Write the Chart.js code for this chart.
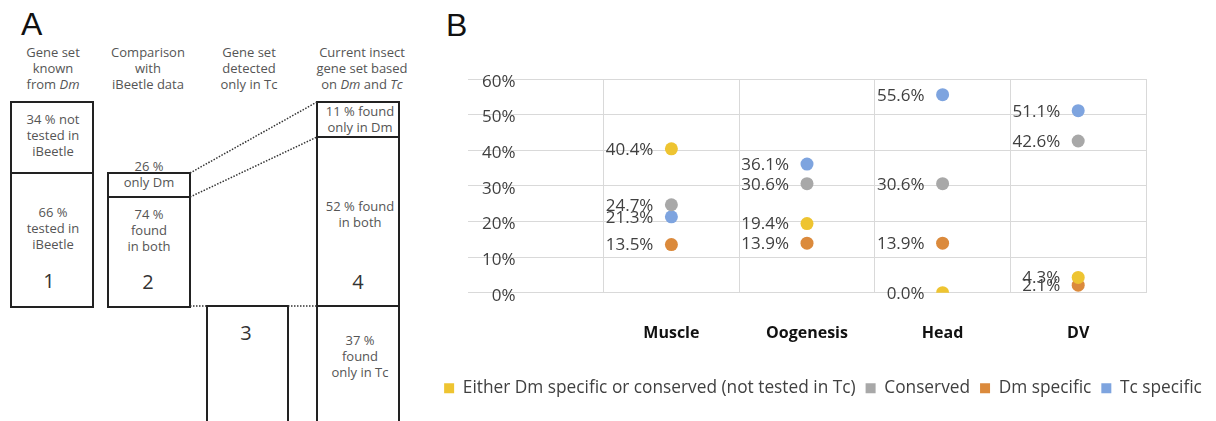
<!DOCTYPE html>
<html>
<head>
<meta charset="utf-8">
<script src="https://cdn.jsdelivr.net/npm/chart.js"></script>
<style>
  body { margin: 0; background: #fff; }
  #page { position: relative; width: 1216px; height: 421px; overflow: hidden; font-family: "Open Sans", sans-serif; }
  .letter { position: absolute; font-family: "Liberation Sans", sans-serif; font-size: 32px; line-height: 32px; color: #111; }
  .txt { position: absolute; width: 120px; text-align: center; font-size: 13px; line-height: 16px; color: #555; }
  .num { position: absolute; width: 60px; text-align: center; font-size: 20px; line-height: 20px; color: #333; }
  .box { position: absolute; box-sizing: border-box; border: 2px solid #222; }
  .open { border-bottom: none; }
  .div { position: absolute; height: 2px; background: #222; }
  #chartWrap { position: absolute; left: 430px; top: 0; width: 786px; height: 421px; }
</style>
</head>
<body>
<div id="page">
  <!-- panel A: schematic -->
  <div class="letter" style="left:21px; top:8px;">A</div>
  <div class="txt" style="left:-7px; top:44px;">Gene set<br>known<br>from <i>Dm</i></div>
  <div class="txt" style="left:88px; top:44px;">Comparison<br>with<br>iBeetle data</div>
  <div class="txt" style="left:189px; top:44px;">Gene set<br>detected<br>only in Tc</div>
  <div class="txt" style="left:302px; top:44px;">Current insect<br>gene set based<br>on <i>Dm</i> and <i>Tc</i></div>

  <div class="box" style="left:10px; top:101px; width:84px; height:207px;"></div>
  <div class="div" style="left:10px; top:172px; width:84px;"></div>
  <div class="txt" style="left:-7px; top:111px;">34 % not<br>tested in<br>iBeetle</div>
  <div class="txt" style="left:-7px; top:204px;">66 %<br>tested in<br>iBeetle</div>
  <div class="num" style="left:19px; top:271px;">1</div>

  <div class="box" style="left:107px; top:172px; width:84px; height:136px;"></div>
  <div class="div" style="left:107px; top:196px; width:84px;"></div>
  <div class="txt" style="left:89px; top:158px;">26 %<br>only Dm</div>
  <div class="txt" style="left:89px; top:206px;">74 %<br>found<br>in both</div>
  <div class="num" style="left:118px; top:272px;">2</div>

  <div class="box open" style="left:206px; top:305px; width:83px; height:130px;"></div>
  <div class="num" style="left:216px; top:323px;">3</div>

  <div class="box open" style="left:316px; top:101px; width:84px; height:330px;"></div>
  <div class="div" style="left:316px; top:136px; width:84px;"></div>
  <div class="div" style="left:316px; top:305px; width:84px;"></div>
  <div class="txt" style="left:300px; top:103px;">11 % found<br>only in Dm</div>
  <div class="txt" style="left:300px; top:198px;">52 % found<br>in both</div>
  <div class="num" style="left:328px; top:272px;">4</div>
  <div class="txt" style="left:300px; top:332px;">37 %<br>found<br>only in Tc</div>

  <svg style="position:absolute; left:0; top:0;" width="430" height="421">
    <g stroke="#333" stroke-width="1.5" stroke-dasharray="1.5 1.5" fill="none">
      <line x1="190" y1="173" x2="317" y2="102"/>
      <line x1="190" y1="197" x2="317" y2="137"/>
      <line x1="190" y1="306" x2="207" y2="306"/>
      <line x1="288" y1="306" x2="317" y2="306"/>
    </g>
  </svg>

  <!-- panel B: chart -->
  <div class="letter" style="left:446px; top:9px;">B</div>
  <div id="chartWrap"><canvas id="dotChart"></canvas></div>
</div>

<script>
var categories = ['', 'Muscle', 'Oogenesis', 'Head', 'DV'];
var eitherDmOrConserved = [null, 40.4, 19.4, 0.0, 4.3];
var conserved = [null, 24.7, 30.6, 30.6, 42.6];
var dmSpecific = [null, 13.5, 13.9, 13.9, 2.1];
var tcSpecific = [null, 21.3, 36.1, 55.6, 51.1];
var yTicks = [0, 10, 20, 30, 40, 50, 60];

Chart.defaults.font.family = '"Open Sans", sans-serif';
Chart.defaults.color = '#404040';

// percent labels to the left of every dot
var valueLabels = {
    id: 'valueLabels',
    afterDatasetsDraw: function (chart) {
        var ctx = chart.ctx;
        ctx.save();
        ctx.font = '17px "Open Sans", sans-serif';
        ctx.fillStyle = '#404040';
        ctx.textAlign = 'right';
        ctx.textBaseline = 'middle';
        chart.data.datasets.forEach(function (ds, i) {
            chart.getDatasetMeta(i).data.forEach(function (pt, j) {
                if (ds.data[j] == null) return;
                ctx.fillText(ds.data[j].toFixed(1) + '%', pt.x - 18, pt.y + 1);
            });
        });
        ctx.restore();
    }
};

function dots(label, data, color) {
    return {
        label: label,
        data: data,
        showLine: false,
        backgroundColor: color,
        borderColor: color,
        borderWidth: 0,
        pointRadius: 6.5,
        pointHoverRadius: 6.5,
        pointBorderWidth: 0
    };
}

new Chart(document.getElementById('dotChart'), {
    type: 'line',
    data: {
        labels: categories,
        datasets: [
            dots('Either Dm specific or conserved (not tested in Tc)', eitherDmOrConserved, '#eec431'),
            dots('Conserved', conserved, '#a8a8a8'),
            dots('Dm specific', dmSpecific, '#db8a3c'),
            dots('Tc specific', tcSpecific, '#7ea4df')
        ]
    },
    options: {
        responsive: true,
        maintainAspectRatio: false,
        animation: false,
        events: [],
        layout: { padding: { top: 79, right: 0, bottom: 14, left: 0 } },
        plugins: {
            tooltip: { enabled: false },
            legend: {
                position: 'bottom',
                labels: {
                    boxWidth: 10,
                    boxHeight: 10,
                    padding: 10,
                    color: '#404040',
                    font: { size: 17.3 }
                }
            }
        },
        scales: {
            x: {
                offset: true,
                grid: {
                    offset: true,
                    drawTicks: false,
                    color: function (c) { return c.index === 0 ? 'rgba(0,0,0,0)' : '#d9d9d9'; }
                },
                border: { color: '#d9d9d9' },
                ticks: { padding: 31, color: '#111', font: { size: 16, weight: 'bold' } },
                afterFit: function (s) { s.height = 77; }
            },
            y: {
                min: 0,
                max: 60,
                afterBuildTicks: function (s) { s.ticks = yTicks.map(function (v) { return { value: v }; }); },
                grid: { color: '#d9d9d9', drawTicks: false },
                border: { display: false },
                ticks: {
                    mirror: true,
                    padding: 14,
                    labelOffset: 3,
                    color: '#404040',
                    font: { size: 17 },
                    // figure space keeps the single digit label right-aligned
                    callback: function (v) { return (v < 10 ? '\u2007' : '') + v + '%'; }
                },
                afterFit: function (s) { s.width = 38; }
            },
            yRight: {
                position: 'right',
                min: 0,
                max: 60,
                grid: { display: false },
                border: { display: false },
                ticks: { display: false },
                afterFit: function (s) { s.width = 70; }
            }
        }
    },
    plugins: [valueLabels]
});
</script>
</body>
</html>
